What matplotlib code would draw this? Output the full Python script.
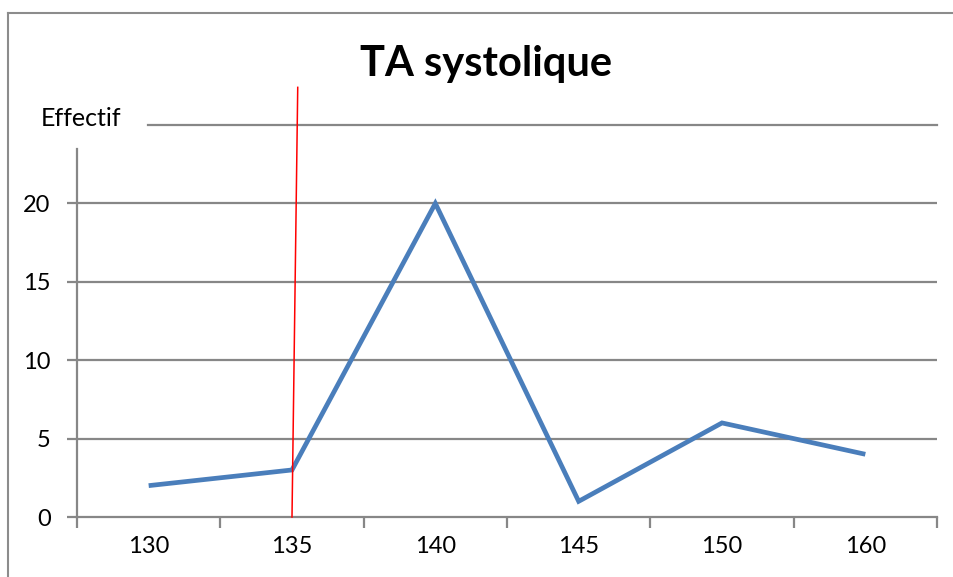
import matplotlib
matplotlib.use('Agg')
import matplotlib.pyplot as plt
from matplotlib.lines import Line2D

categories = ['130', '135', '140', '145', '150', '160']
effectif = [2, 3, 20, 1, 6, 4]
y_ticks = [0, 5, 10, 15, 20]
# trait rouge ajouté à la main (repère sur 135)
red_x = [1.0, 1.04]
red_y = [0.0, 27.4]

plt.rcParams['font.family'] = ['Lato', 'DejaVu Sans']
grey = '#878787'

W, H = 954, 577
fig = plt.figure(figsize=(W / 100, H / 100), dpi=100)
ax = fig.add_axes([77 / W, 1 - 517 / H, (937 - 77) / W, (517 - 125) / H])

x = range(len(categories))
ax.set_xlim(-0.5, len(categories) - 0.5)
ax.set_ylim(0, 25)

# grille horizontale
for v in y_ticks[1:]:
    ax.axhline(v, color=grey, lw=1.6, zorder=1)
ax.plot([(148 - 77) / 143.33 - 0.5, len(categories) - 0.5], [25, 25],
        color=grey, lw=1.6, zorder=1, clip_on=False)

ax.plot(x, effectif, color='#4A7EBB', lw=3.4, solid_joinstyle='miter',
        solid_capstyle='butt', zorder=3)
ax.plot(red_x, red_y, color='red', lw=1.1, zorder=4, clip_on=False)

for s in ['top', 'right']:
    ax.spines[s].set_visible(False)
ax.spines['left'].set_bounds(0, 23.5)
ax.spines['left'].set_color(grey)
ax.spines['bottom'].set_color(grey)
ax.spines['left'].set_linewidth(1.6)
ax.spines['bottom'].set_linewidth(1.6)

ax.set_yticks(y_ticks)
ax.set_yticklabels([str(v) for v in y_ticks], fontsize=17)
ax.set_xticks([i - 0.5 for i in range(len(categories) + 1)])
ax.set_xticklabels([])
ax.set_xticks(list(x), minor=True)
ax.set_xticklabels(categories, minor=True, fontsize=17)
ax.tick_params(axis='x', which='major', direction='out', length=8, width=1.6,
               color=grey)
ax.tick_params(axis='x', which='minor', length=0, pad=14)
ax.tick_params(axis='y', direction='out', length=7, width=1.6, color=grey,
               pad=12)

fig.text(41 / W, 1 - 118 / H, 'Effectif', fontsize=18, ha='left', va='center')
fig.text(486 / W, 1 - 64 / H, 'TA systolique', fontsize=30, fontweight='bold',
         ha='center', va='center')

# cadre du graphique : seuls les bords haut et gauche sont visibles
top = 1 - 13 / H
left = 8 / W
fig.add_artist(Line2D([left, 1.0], [top, top], transform=fig.transFigure,
                      color='#8c8c8c', lw=1.5))
fig.add_artist(Line2D([left, left], [0, top], transform=fig.transFigure,
                      color='#8c8c8c', lw=1.5))

plt.savefig('out.png', dpi=100)
